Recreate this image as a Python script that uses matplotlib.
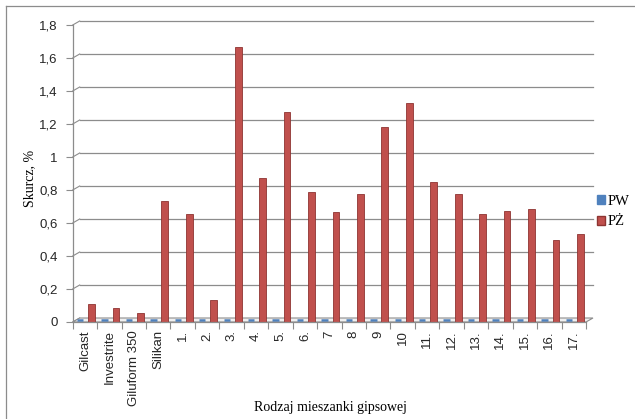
import matplotlib
matplotlib.use("Agg")
import matplotlib.pyplot as plt
from matplotlib.patches import Polygon, Patch
from matplotlib.lines import Line2D
import numpy as np

categories = ["Gilcast", "Investrite", "Giluform 350", "Silikan", "1.", "2.", "3.", "4.", "5.",
              "6.", "7", "8", "9", "10", "11.", "12.", "13.", "14.", "15.", "16.", "17."]
pw_values = [0.0] * 21
pz_values = [0.11, 0.085, 0.055, 0.735, 0.655, 0.135, 1.665, 0.875, 1.275, 0.785, 0.665, 0.775,
             1.18, 1.33, 0.85, 0.775, 0.655, 0.675, 0.685, 0.495, 0.535]
y_ticks = [0, 0.2, 0.4, 0.6, 0.8, 1.0, 1.2, 1.4, 1.6, 1.8]
y_tick_labels = ["0", "0,2", "0,4", "0,6", "0,8", "1", "1,2", "1,4", "1,6", "1,8"]
series_names = ["PW", "PŻ"]
y_title = "Skurcz, %"
x_title = "Rodzaj mieszanki gipsowej"

W, H = 635, 419
fig = plt.figure(figsize=(W / 100, H / 100), dpi=100)
ax_l, ax_r, ax_b, ax_t = 72.7, 586.0, 322.0, 25.0
ax = fig.add_axes([ax_l / W, 1 - ax_b / H, (ax_r - ax_l) / W, (ax_b - ax_t) / H])

n = len(categories)
x = np.arange(n)
ax.set_xlim(-0.5, n - 0.5)
ax.set_ylim(0, 1.8)

grid_c = "#8c8c8c"
dx = 7 * n / (ax_r - ax_l)
dy = 4 * 1.8 / (ax_b - ax_t)

# floor
floor = Polygon([(-0.5, 0), (n - 0.5, 0), (n - 0.5 + dx, dy), (-0.5 + dx, dy)],
                closed=True, facecolor="#f0f0f0", edgecolor=grid_c, lw=0.8, zorder=1, clip_on=False)
ax.add_patch(floor)

# gridlines on back wall + diagonals
for v in y_ticks:
    if v > 0:
        ax.plot([-0.5 + dx, n - 0.5 + dx], [v + dy, v + dy], color=grid_c, lw=0.9, zorder=0.5, clip_on=False)
    ax.plot([-0.5, -0.5 + dx], [v, v + dy], color=grid_c, lw=0.8, zorder=0.5, clip_on=False)

bw = 0.28
ax.bar(x - 0.2, pw_values, width=0.26, bottom=dy * 0.5, color="#4F81BD", edgecolor="#4F81BD",
       lw=1.8, zorder=2, clip_on=False)
ax.bar(x + 0.27, pz_values, width=bw, color="#C0504D", edgecolor="#8E3432", lw=0.6, zorder=3)

for s in ["top", "right", "bottom"]:
    ax.spines[s].set_visible(False)
ax.spines["left"].set_color(grid_c)
ax.spines["left"].set_linewidth(0.9)

ax.set_yticks(y_ticks)
ax.set_yticklabels(y_tick_labels, fontsize=9.5, family="Liberation Sans", color="#262626")
ax.tick_params(axis="y", direction="out", length=5, width=0.8, color=grid_c, pad=6)

ax.set_xticks(np.arange(n + 1) - 0.5, minor=True)
ax.set_xticks(x)
ax.set_xticklabels(categories, rotation=90, fontsize=9.5, family="Liberation Sans", color="#262626")
ax.tick_params(axis="x", which="major", length=0, pad=6)
ax.tick_params(axis="x", which="minor", direction="out", length=5, width=0.8, color=grid_c)
ax.plot([-0.5, n - 0.5], [0, 0], color=grid_c, lw=0.9, zorder=4, clip_on=False)

fig.text(30 / W, 1 - 178 / H, y_title, rotation=90, ha="center", va="center",
         fontsize=10, family="Liberation Serif")
fig.text(330 / W, 1 - 407 / H, x_title, ha="center", va="center",
         fontsize=10, family="Liberation Serif")

handles = [Patch(facecolor="#4F81BD", edgecolor="#4F81BD"),
           Patch(facecolor="#C0504D", edgecolor="#8E3432")]
fig.legend(handles, series_names, loc="upper left", bbox_to_anchor=(597 / W, 1 - 195 / H),
           frameon=False, borderpad=0, borderaxespad=0, handlelength=0.55, handleheight=0.55,
           handletextpad=0.2, labelspacing=0.5, prop={"family": "Liberation Serif", "size": 10.5})

# outer frame (top and left edges visible in the image)
fig.add_artist(Line2D([6 / W, 1.0], [1 - 6 / H, 1 - 6 / H], transform=fig.transFigure,
                      color="#8c8c8c", lw=0.9))
fig.add_artist(Line2D([6 / W, 6 / W], [1 - 6 / H, 0.0], transform=fig.transFigure,
                      color="#8c8c8c", lw=0.9))

fig.savefig("out.png", dpi=100)
